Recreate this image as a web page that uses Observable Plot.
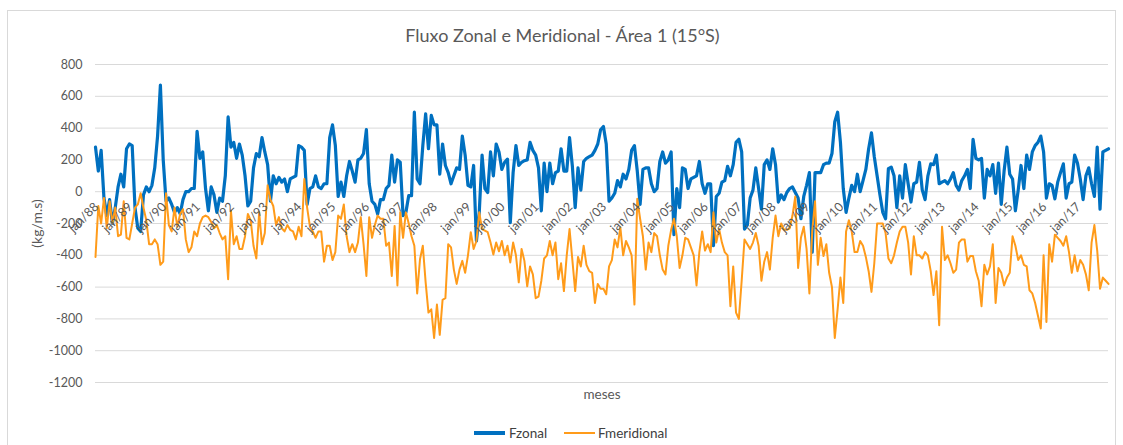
<!DOCTYPE html>
<html>
<head>
<meta charset="utf-8">
<script src="https://cdn.jsdelivr.net/npm/d3@7"></script>
<script src="https://cdn.jsdelivr.net/npm/@observablehq/plot@0.6"></script>
<style>
  html, body { margin: 0; padding: 0; background: #fff; }
  #wrap { position: relative; width: 1123px; height: 445px; overflow: hidden; background: #fff; font-family: Lato, "Open Sans", sans-serif; }
  #border { position: absolute; left: 7px; top: 10px; width: 1107px; height: 460px; border: 1px solid #d9d9d9; pointer-events: none; }
  #title { position: relative; height: 50px; box-sizing: border-box; padding-top: 24px; line-height: 22px; text-align: center; font-size: 18px; color: #595959; padding-left: 2px; }
  #chart { position: relative; height: 360px; }
  #legend { position: relative; height: 35px; font-size: 13.5px; color: #404040; }
  .sw { position: absolute; width: 31px; }
  .lt { position: absolute; top: 14px; line-height: 18px; }
</style>
</head>
<body>
<div id="wrap">
  <div id="border"></div>
  <div id="title"></div>
  <div id="chart"></div>
  <div id="legend"></div>
</div>
<script>
const chartTitle = "Fluxo Zonal e Meridional - Área 1 (15°S)";
const yLabel = "(kg/m.s)";
const xLabel = "meses";
const seriesNames = ["Fzonal", "Fmeridional"];
const seriesColors = ["#0070c0", "#ff9b1a"];

const xTickLabels = ["jan/88","jan/89","jan/90","jan/91","jan/92","jan/93","jan/94","jan/95","jan/96","jan/97",
  "jan/98","jan/99","jan/00","jan/01","jan/02","jan/03","jan/04","jan/05","jan/06","jan/07",
  "jan/08","jan/09","jan/10","jan/11","jan/12","jan/13","jan/14","jan/15","jan/16","jan/17"];
const yTicks = [800, 600, 400, 200, 0, -200, -400, -600, -800, -1000, -1200];

const fzonal = [
  280,130,260,-40,-150,-50,-200,-100,30,110,30,270,
  300,290,-100,-230,-250,-20,30,0,40,150,350,670,
  200,-60,-40,-80,-130,-100,-140,-50,0,0,20,20,
  380,210,250,20,-120,30,-20,-130,-40,-60,100,470,
  280,310,210,300,230,100,-90,-60,150,240,220,340,
  250,170,-60,100,50,90,60,80,0,80,90,100,
  290,280,260,-80,20,30,100,30,20,50,50,340,
  420,290,-30,60,-30,100,190,130,60,200,210,240,
  390,50,-60,-80,-140,-50,-50,20,40,230,60,200,
  185,-150,-130,-25,-25,500,80,50,290,490,270,480,
  420,420,110,300,165,120,50,100,150,140,350,230,
  40,30,165,-310,-130,230,20,-5,250,100,300,250,
  140,185,205,-195,120,290,165,185,195,200,310,260,
  230,150,-120,180,0,180,50,120,130,270,130,130,
  340,160,-100,150,10,190,210,220,230,260,300,390,
  410,300,-60,-40,-10,70,30,110,80,140,260,290,
  130,-80,140,150,150,50,0,20,190,250,180,200,
  250,-270,20,-100,150,140,20,80,90,100,190,50,
  -10,50,50,-340,-30,-10,60,70,160,100,170,310,
  330,250,-235,-210,-40,10,150,20,-110,170,200,140,
  270,170,-65,-20,-50,-5,20,30,-5,-40,-170,-30,
  40,120,-380,120,120,120,170,180,180,240,440,500,
  310,20,-130,-40,40,0,110,0,70,140,270,370,
  220,100,-20,-130,-170,145,155,100,-100,100,-40,170,
  50,-65,50,60,185,10,-50,100,175,170,230,50,
  60,70,50,80,120,40,10,70,100,140,20,330,
  210,200,210,-40,140,100,170,-10,180,-80,130,280,
  110,80,-120,10,165,20,230,140,250,290,310,350,
  250,-40,50,40,-45,60,120,175,-40,50,60,230,
  180,80,-50,100,150,50,-30,280,-110,250,260,270
];

const fmeridional = [
  -410,-90,-200,-40,-230,-60,-200,-100,-280,-270,-60,-290,
  -300,-200,-100,-80,-10,-100,-180,-330,-330,-300,-330,-460,
  -440,-10,-210,-250,-100,-220,-140,-110,-300,-380,-350,-250,
  -280,-200,-160,-150,-160,-190,-230,-210,-260,-300,-280,-550,
  -120,-330,-280,-360,-360,-280,-140,-180,-340,-420,-130,-330,
  -260,40,-50,-90,-210,-160,-230,-250,-210,-240,-250,-300,
  -220,-280,80,-100,-220,-250,-290,-250,-250,-440,-340,-340,
  -430,-380,-150,-170,-80,-280,-380,-330,-380,-320,-160,-330,
  -530,-160,-290,-210,-150,-170,-170,-340,-320,-530,-215,-590,
  -130,-290,-130,-200,-280,-340,-640,-425,-340,-570,-760,-740,
  -920,-710,-900,-680,-670,-330,-350,-490,-580,-490,-435,-510,
  -400,-255,-360,-310,-130,-235,-245,-255,-320,-395,-320,-375,
  -310,-400,-340,-445,-320,-400,-570,-360,-435,-595,-470,-520,
  -670,-660,-560,-420,-400,-310,-400,-320,-550,-450,-625,-400,
  -235,-430,-625,-410,-470,-340,-460,-500,-510,-700,-580,-610,
  -610,-645,-470,-430,-300,-350,-225,-400,-310,-350,-400,-710,
  -45,-170,-280,-490,-320,-380,-260,-280,-400,-490,-520,-340,
  -240,-170,-280,-480,-400,-290,-300,-350,-400,-590,-380,-250,
  -370,-330,-380,-130,-320,-235,-320,-380,-400,-720,-470,-760,
  -800,-560,-300,-330,-360,-320,-260,-340,-560,-440,-380,-490,
  -290,-150,-280,-200,-240,-240,-230,-150,-30,-480,-290,-220,
  -360,-640,-250,-60,-460,-290,-405,-330,-510,-600,-920,-740,
  -540,-700,-250,-180,-250,-380,-380,-310,-340,-410,-500,-630,
  -450,-200,-200,-200,-260,-420,-450,-400,-320,-250,-220,-220,
  -320,-520,-280,-400,-400,-420,-380,-400,-500,-650,-500,-840,
  -220,-430,-400,-450,-510,-490,-320,-300,-300,-440,-405,-405,
  -500,-560,-720,-460,-520,-470,-330,-700,-480,-510,-590,-540,
  -510,-280,-340,-430,-400,-460,-470,-620,-640,-700,-780,-860,
  -400,-820,-330,-440,-270,-290,-310,-340,-280,-380,-510,-400,
  -500,-430,-460,-520,-620,-320,-210,-370,-610,-540,-560,-580
];

document.getElementById("title").textContent = chartTitle;

const nMonths = fzonal.length;
const xTicks = xTickLabels.map((t, k) => ({i: k * 12, t}));

const chart = Plot.plot({
  width: 1123,
  height: 360,
  marginTop: 14,
  marginBottom: 28,
  marginLeft: 95,
  marginRight: 15,
  style: {fontFamily: "Lato, 'Open Sans', sans-serif", fontSize: "12px", color: "#595959", background: "transparent", overflow: "visible"},
  x: {domain: [0, nMonths - 1], axis: null},
  y: {domain: [-1200, 800], axis: null},
  marks: [
    Plot.gridY(yTicks, {stroke: "#d9d9d9", strokeOpacity: 1, strokeWidth: 1}),
    Plot.axisY(yTicks, {tickSize: 0, tickPadding: 13, tickFormat: d => String(d), label: null, fontSize: 12.5, fill: "#595959"}),
    Plot.lineY(fzonal, {x: (d, i) => i, y: d => d, stroke: seriesColors[0], strokeWidth: 3.2, strokeLinejoin: "round"}),
    Plot.lineY(fmeridional, {x: (d, i) => i, y: d => d, stroke: seriesColors[1], strokeWidth: 2, strokeLinejoin: "round"}),
    Plot.text(xTicks, {x: "i", y: () => 0, text: "t", rotate: -45, textAnchor: "end", lineAnchor: "middle", dx: 1, dy: 13, fill: "#595959", fontSize: 12.5}),
    Plot.text([yLabel], {frameAnchor: "left", dx: -58, rotate: -90, textAnchor: "middle", lineAnchor: "middle", fill: "#595959", fontSize: 14}),
    Plot.text([xLabel], {frameAnchor: "bottom", dy: 12, textAnchor: "middle", lineAnchor: "middle", fill: "#595959", fontSize: 13.5})
  ]
});
document.getElementById("chart").appendChild(chart);

const legend = document.getElementById("legend");
const legendPos = [{sw: 474, tx: 509, w: 3.5}, {sw: 564, tx: 598, w: 2}];
seriesNames.forEach((name, k) => {
  const sw = document.createElement("div");
  sw.className = "sw";
  sw.style.left = legendPos[k].sw + "px";
  sw.style.top = (23 - legendPos[k].w / 2) + "px";
  sw.style.height = legendPos[k].w + "px";
  sw.style.background = seriesColors[k];
  legend.appendChild(sw);
  const tx = document.createElement("div");
  tx.className = "lt";
  tx.style.left = legendPos[k].tx + "px";
  tx.textContent = name;
  legend.appendChild(tx);
});
</script>
</body>
</html>
